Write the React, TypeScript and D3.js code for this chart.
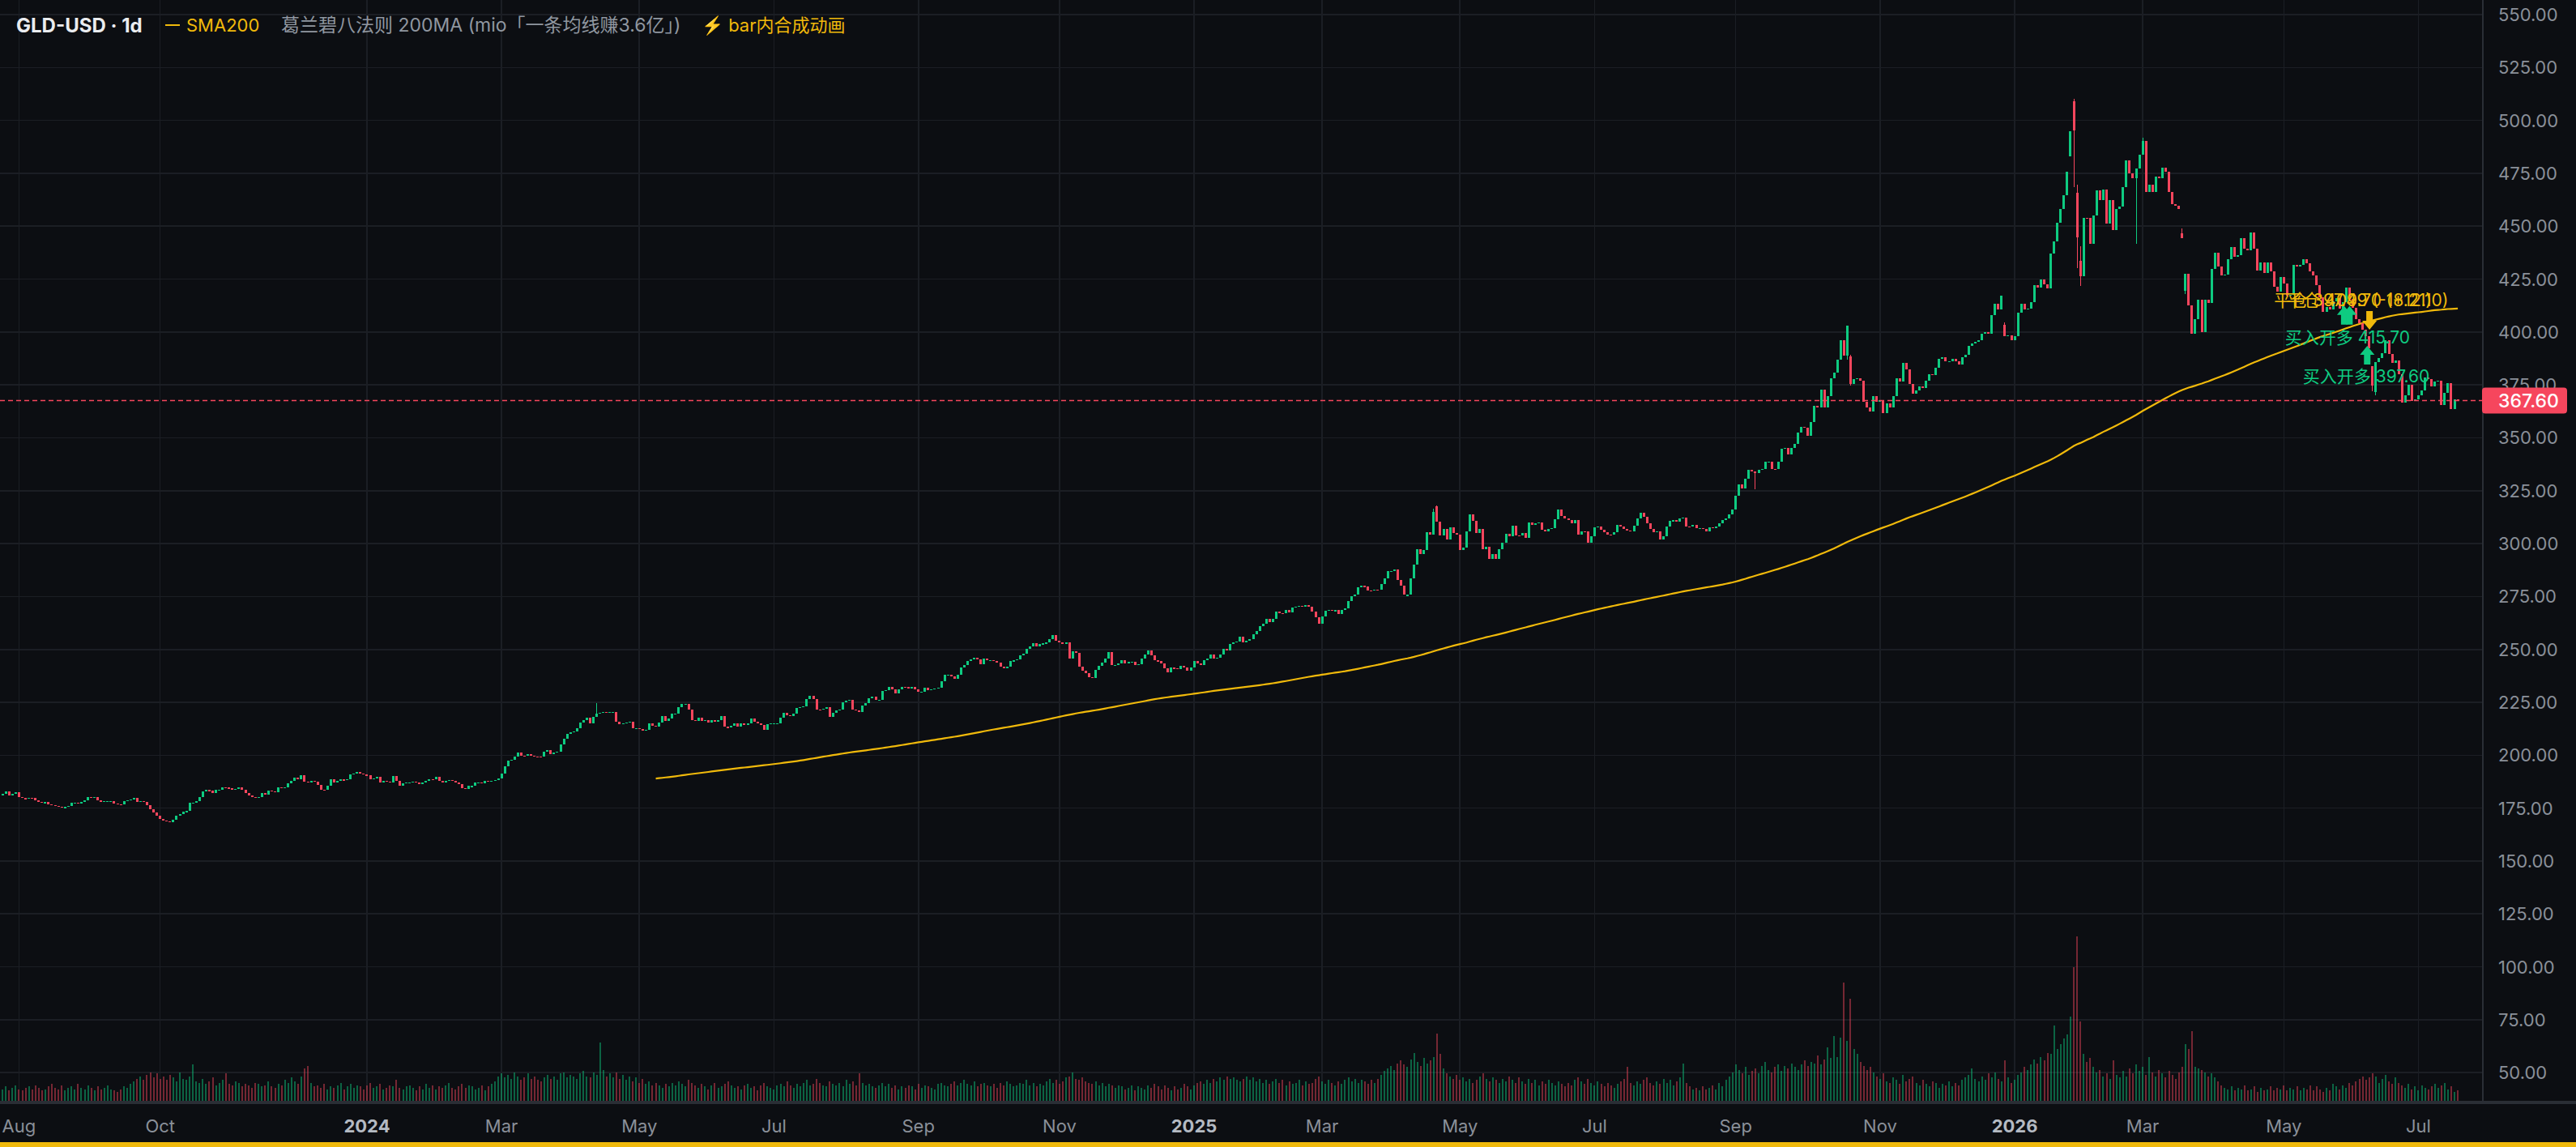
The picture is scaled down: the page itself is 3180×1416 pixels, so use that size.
import React, { useMemo } from 'react';
import * as d3 from 'd3';

const WIDTH = 3180;
const HEIGHT = 1416;

const FIRST_SESSION = '2023-07-25';
const MARKET_HOLIDAYS = [
  '2023-09-04', '2023-11-23', '2023-12-25',
  '2024-01-01', '2024-01-15', '2024-02-19', '2024-03-29', '2024-05-27', '2024-06-19', '2024-07-04', '2024-09-02', '2024-11-28', '2024-12-25',
  '2025-01-01', '2025-01-09', '2025-01-20', '2025-02-17', '2025-04-18', '2025-05-26', '2025-06-19', '2025-07-04', '2025-09-01', '2025-11-27', '2025-12-25',
  '2026-01-01', '2026-01-19', '2026-02-16', '2026-04-03', '2026-05-25', '2026-06-19', '2026-07-03',
];

// closes, Jul 2023 – Apr 2024
const CLOSES_A = [
  181.6, 182.8, 181.0, 181.6, 182.5, 180.3, 179.7, 179.4, 179.9, 179.7,
  178.7, 178.0, 177.8, 177.8, 176.9, 176.4, 175.9, 175.6, 175.4, 175.5,
  175.9, 177.4, 177.5, 177.4, 177.8, 178.7, 180.3, 180.1, 180.2, 178.7,
  177.9, 178.2, 178.3, 178.4, 177.2, 176.9, 176.6, 178.3, 178.7, 179.2,
  179.9, 177.9, 178.4, 177.8, 176.4, 174.6, 173.1, 171.5, 169.8, 169.3,
  168.9, 168.5, 169.6, 171.5, 172.3, 173.4, 173.6, 177.7, 177.7, 178.4,
  180.3, 182.8, 183.5, 183.1, 182.2, 183.5, 183.7, 185.0, 184.7, 184.5,
  183.7, 184.0, 184.7, 183.7, 182.0, 181.0, 180.3, 179.7, 180.2, 182.0,
  181.5, 183.2, 183.0, 182.7, 185.0, 184.5, 185.0, 186.6, 187.9, 189.4,
  188.5, 190.4, 187.5, 187.0, 187.9, 187.5, 185.8, 183.7, 183.5, 185.4,
  188.5, 187.3, 187.9, 188.5, 188.3, 188.8, 190.8, 191.3, 192.1, 191.3,
  190.8, 190.4, 188.5, 189.2, 189.8, 187.3, 187.9, 187.5, 187.0, 190.1,
  187.9, 185.4, 186.6, 187.3, 187.3, 187.5, 187.0, 186.6, 187.0, 187.8,
  188.8, 188.5, 189.8, 187.9, 187.3, 187.9, 188.2, 187.9, 187.0, 186.3,
  184.5, 184.1, 185.4, 185.4, 187.3, 187.3, 186.9, 187.9, 187.7, 187.9,
  188.2, 189.2, 191.3, 194.9, 197.4, 198.0, 199.3, 201.2, 199.9, 199.7,
  200.4, 199.7, 199.4, 199.3, 199.2, 201.5, 202.5, 200.6, 201.2, 201.7,
  205.0, 207.8, 210.1, 210.7, 211.3, 212.8, 215.4, 216.6, 217.7, 215.1,
  218.3, 219.6, 220.2, 220.4, 220.2, 220.4, 220.4, 215.8, 214.5, 215.1,
  215.4, 215.8, 212.6, 212.8, 212.3, 211.6,
];

// closes, May 2024 – Jan 2025
const CLOSES_B = [
  212.0, 215.0, 214.0, 213.7, 215.3, 218.4, 216.3, 217.4, 219.7, 219.7,
  222.6, 224.2, 224.2, 221.4, 216.5, 216.3, 217.8, 216.3, 216.5, 215.3,
  216.5, 215.9, 216.5, 218.4, 213.4, 213.0, 214.0, 215.0, 213.4, 215.0,
  214.3, 215.0, 217.2, 215.9, 215.0, 214.4, 212.1, 214.6, 215.0, 215.0,
  215.0, 217.6, 220.1, 218.8, 218.4, 219.7, 222.3, 222.9, 223.2, 226.7,
  228.0, 226.5, 221.6, 221.4, 221.9, 222.9, 218.2, 220.1, 221.0, 221.6,
  225.2, 225.7, 226.1, 221.6, 221.0, 220.6, 223.5, 224.8, 227.0, 227.7,
  226.1, 226.2, 230.5, 230.8, 232.4, 231.2, 229.3, 231.0, 232.4, 232.1,
  231.6, 232.4, 231.2, 229.9, 229.9, 231.8, 230.8, 231.2, 231.6, 231.8,
  235.0, 237.9, 238.2, 237.2, 236.3, 238.2, 241.3, 242.6, 244.5, 245.2,
  246.1, 245.2, 243.0, 245.5, 244.8, 245.0, 244.5, 243.8, 242.0, 241.0,
  242.0, 244.5, 244.8, 245.2, 247.1, 247.8, 250.3, 251.5, 252.8, 251.5,
  252.4, 252.8, 253.2, 254.7, 256.6, 254.1, 253.2, 252.8, 253.2, 245.8,
  249.0, 248.3, 241.7, 240.1, 238.8, 236.9, 236.6, 240.5, 242.2, 243.9,
  245.8, 248.6, 242.6, 242.6, 243.5, 244.8, 243.5, 244.0, 244.3, 242.6,
  243.0, 245.8, 247.7, 249.6, 247.1, 244.8, 244.5, 243.5, 241.0, 239.2,
  241.3, 241.0, 240.7, 242.2, 241.3, 240.1, 241.3, 244.5, 243.5, 242.5,
  244.8, 245.5, 247.7, 245.5, 246.1, 247.7, 250.3, 249.6, 252.4, 253.4,
  253.7, 256.0, 253.4, 254.1, 254.7, 257.3, 258.8, 261.1, 262.1,
];

// closes, Feb 2025 – Aug 2025
const CLOSES_C = [
  264.3, 263.0, 264.6, 267.7, 267.2, 267.1, 268.8, 267.5, 269.8, 270.3,
  270.7, 270.3, 271.1, 270.0, 267.7, 265.2, 262.1, 265.5, 268.4, 268.8,
  268.5, 268.5, 266.9, 268.8, 269.4, 272.8, 275.1, 275.8, 279.2, 280.0,
  279.8, 277.9, 277.7, 278.3, 278.1, 280.9, 283.4, 287.1, 287.2, 287.8,
  282.8, 280.2, 275.8, 275.8, 283.4, 290.1, 297.4, 295.1, 297.1, 305.4,
  304.4, 314.8, 310.5, 303.8, 306.9, 302.1, 307.6, 305.0, 304.4, 297.0,
  298.0, 305.9, 313.9, 310.8, 305.0, 306.9, 297.5, 298.4, 292.9, 295.2,
  292.9, 297.4, 300.3, 304.6, 303.4, 308.5, 303.9, 303.8, 305.0, 302.9,
  310.0, 308.8, 309.7, 310.1, 306.7, 305.9, 306.9, 307.2, 311.6, 316.1,
  313.0, 311.8, 311.0, 309.5, 311.0, 304.4, 305.9, 305.7, 300.3, 303.4,
  307.7, 308.0, 306.7, 305.4, 304.4, 304.1, 305.4, 308.8, 308.0, 306.9,
  306.3, 305.9, 308.5, 312.0, 314.6, 312.7, 309.5, 306.9, 305.4, 305.7,
  302.1, 303.4, 308.2, 310.8, 311.0, 310.5, 311.8, 312.3, 308.2, 308.0,
  308.8, 307.2, 307.2, 306.9, 305.7, 307.6, 307.2, 308.2, 309.7, 311.0,
  311.8, 313.9, 316.1, 322.5, 327.9,
];

// closes, Sep 2025 – Mar 2026
const CLOSES_D = [
  326.0, 330.8, 334.8, 334.1, 333.5, 334.8, 335.4, 338.7, 338.7, 335.4,
  335.2, 338.7, 344.9, 345.3, 342.0, 345.3, 347.3, 352.3, 355.2, 354.6,
  351.0, 357.6, 365.1, 364.4, 372.6, 364.4, 369.7, 378.3, 380.9, 386.8,
  396.3, 388.8, 402.9, 375.6, 377.6, 378.3, 376.9, 367.1, 364.4, 362.5,
  369.7, 367.1, 367.7, 361.5, 366.4, 364.4, 369.7, 378.3, 376.6, 385.5,
  382.2, 375.6, 371.0, 372.3, 374.3, 373.6, 376.9, 380.0, 379.6, 383.1,
  387.5, 388.1, 386.2, 386.2, 387.5, 386.2, 384.8, 388.1, 389.1, 393.4,
  394.7, 395.4, 396.0, 399.3, 400.0, 399.3, 407.9, 413.2, 410.5, 417.1,
  398.0, 398.4, 396.0, 398.0, 409.2, 413.2, 410.5, 411.2, 414.2, 422.1,
  421.1, 424.8, 422.7, 420.8, 437.2, 442.8, 451.6, 458.0, 464.6, 475.8,
  494.9, 495.1, 444.8, 426.4, 454.0, 453.8, 441.5, 455.1, 466.9, 462.2,
  467.2, 451.1, 462.2, 448.1, 458.0, 459.3, 468.5, 481.0, 475.1, 472.5,
  477.1, 483.7, 490.3, 466.0, 469.5, 466.0, 473.5, 472.5,
];

// closes, Mar 2026 – Jul 2026
const CLOSES_E = [
  477.7, 475.8, 466.2, 460.4, 459.8, 458.3, 444.2, 427.6, 412.6, 399.2,
  406.2, 415.1, 399.8, 415.1, 413.9, 429.8, 437.5, 431.1, 426.6, 427.3,
  434.3, 440.0, 435.6, 436.5, 444.5, 439.4, 438.7, 447.0, 439.4, 429.2,
  433.0, 427.9, 433.0, 428.5, 421.5, 418.9, 426.0, 422.8, 417.0, 417.7,
  431.7, 431.1, 431.7, 434.3, 432.4, 428.5, 426.6, 422.0, 416.4, 409.4,
  412.0, 410.5, 414.5, 416.0, 411.0, 414.0, 420.9, 415.7, 411.3, 406.2,
  404.0, 401.0, 398.0, 392.2, 374.5, 385.9, 387.8, 390.0, 396.0, 389.6,
  385.3, 386.5, 380.0, 366.7, 370.0, 375.0, 367.4, 368.0, 370.0, 372.5,
  378.5, 377.6, 374.4, 376.5, 377.0, 365.5, 371.2, 375.7, 363.5, 368.0, 367.6,
];

// notable candles whose open / high / low differ from the plain body: [bar, open, high, low]
const CANDLE_EXTREMES: [number, number | null, number | null, number | null][] = [
  [181, null, 224.6, null],
  [436, null, 316.5, null],
  [437, 317.5, 318.2, null],
  [534, null, null, 325.6],
  [562, null, null, 387.0],
  [563, 388.5, 389.2, 374.5],
  [610, 403.3, 404.5, null],
  [630, 483.0, null, null],
  [631, 509.2, 510.0, 468.5],
  [632, 465.9, 469.6, 430.3],
  [633, 433.6, 440.6, 421.7],
  [650, null, null, 441.5],
  [652, null, 492.0, 484.0],
  [664, 446.5, 449.0, null],
  [665, 419.6, null, 418.0],
  [722, 384.0, null, 372.0],
  [723, 371.7, null, 370.0],
];

// volume (millions)
const VOLUME_A = [
  9, 11, 8, 10, 12, 9, 8, 10, 11, 9, 12, 10, 8, 9, 11, 13, 10, 9, 12, 8, 10, 11, 9, 13, 10,
  9, 12, 10, 8, 11, 9, 10, 12, 9, 8, 7, 9, 11, 10, 13, 15, 17, 19, 16, 20, 22, 18, 21, 17, 19,
  16, 20, 18, 15, 22, 17, 16, 19, 28, 15, 14, 17, 13, 15, 18, 12, 14, 16, 21, 13, 12, 15, 14, 11, 13,
  12, 10, 14, 13, 11, 12, 15, 11, 10, 13, 12, 16, 14, 18, 15, 13, 19, 25, 27, 14, 11, 12, 10, 13, 9,
  11, 10, 12, 14, 9, 11, 13, 10, 12, 11, 9, 12, 14, 10, 11, 13, 9, 10, 12, 11, 16, 10, 9, 11, 12,
  10, 8, 11, 9, 13, 10, 12, 9, 11, 10, 12, 14, 10, 9, 11, 13, 10, 12, 11, 9, 10, 12, 8, 11, 13,
  15, 19, 21, 18, 20, 17, 22, 19, 16, 18, 21, 17, 19, 16, 15, 18, 20, 17, 19, 16, 21, 22, 18, 20, 19,
  17, 21, 23, 19, 18, 22, 20, 45, 24, 19, 21, 18, 22, 17, 20, 16, 19, 15, 18, 14, 17, 13, 15, 12, 14,
  12, 10, 13, 11, 14, 12, 15, 13, 11, 16, 14, 12, 10, 13, 11, 9, 12, 14, 10, 11, 13, 15, 12, 10, 11,
  9, 12, 13, 10, 11, 8, 12, 14, 11, 10, 9, 12, 13, 11, 15, 12, 10, 13, 11, 14, 16, 12, 13, 17, 14,
];
const VOLUME_B = [
  12, 11, 15, 13, 12, 14, 11, 16, 13, 15, 12, 21, 14, 12, 13, 11, 10, 12, 14, 11, 13, 10, 12, 9, 11,
  10, 12, 11, 9, 13, 10, 12, 11, 10, 9, 13, 14, 12, 11, 13, 15, 12, 14, 16, 13, 12, 15, 11, 13, 14,
  12, 11, 13, 10, 14, 12, 15, 13, 11, 12, 14, 13, 16, 12, 14, 11, 13, 12, 15, 17, 14, 16, 13, 15, 18,
  19, 22, 17, 16, 18, 15, 14, 13, 15, 12, 14, 11, 13, 12, 10, 12, 11, 9, 10, 12, 8, 11, 10, 9, 12,
  10, 13, 11, 9, 12, 10, 8, 11, 9, 10, 13, 11, 9, 12, 14, 15, 13, 16, 14, 17, 15, 18, 16, 19, 17,
  18, 16, 15, 17, 19, 16, 18, 15, 17, 14, 16, 13, 15, 17, 14, 16, 12, 15, 13, 14, 16, 12, 15, 13, 14,
  17, 19, 15, 13, 16, 14, 12, 15, 13, 16, 18, 15, 17, 14, 16, 15, 13, 16, 14, 17, 20, 23, 25, 27, 24,
  29, 31, 28, 26, 32, 37, 30, 27, 33, 29, 31, 34, 52, 36, 25, 21, 19, 17, 20, 16, 18, 15, 17, 14, 16,
  19, 21, 17, 15, 18, 16, 14, 17, 15, 19, 16, 14, 18, 15, 13, 17, 14, 16, 12, 15, 13, 16, 14, 12, 15,
  13, 11, 14, 12, 16, 18, 15, 13, 17, 14, 12, 15, 13, 11, 14, 12, 10, 13, 15, 17, 26, 14, 12, 15, 13,
];
const VOLUME_C = [
  16, 18, 14, 12, 15, 13, 17, 14, 16, 12, 15, 18, 29, 14, 11, 9, 10, 8, 11, 9, 10, 12, 9, 14, 11,
  16, 19, 22, 28, 24, 21, 26, 20, 23, 25, 21, 27, 30, 24, 22, 26, 28, 23, 27, 25, 29, 26, 24, 28, 31,
  27, 30, 29, 35, 28, 32, 41, 33, 50, 34, 49, 91, 46, 79, 40, 36, 30, 27, 24, 26, 22, 19, 17, 21, 15,
  14, 18, 16, 13, 20, 15, 17, 19, 14, 12, 16, 13, 11, 15, 14, 10, 13, 12, 15, 11, 14, 12, 16, 18, 20,
  25, 17, 15, 19, 16, 21, 18, 22, 17, 15, 31, 18, 14, 16, 20, 22, 26, 24, 28, 32, 29, 34, 31, 37, 36,
  58, 40, 44, 48, 51, 65, 103, 127, 61, 36, 30, 33, 26, 22, 24, 19, 21, 17, 31, 20, 18, 23, 19, 25, 21,
  28, 23, 26, 20, 34, 22, 19, 24, 21, 18, 23, 20, 17, 22, 26, 44, 40, 54, 26, 25, 24, 22, 19, 21, 18,
  15, 12, 10, 9, 11, 8, 10, 9, 12, 8, 9, 11, 7, 10, 8, 9, 11, 8, 10, 9, 12, 8, 10, 9, 11,
  8, 10, 9, 12, 8, 11, 9, 7, 10, 8, 13, 11, 9, 12, 10, 14, 12, 15, 17, 19, 16, 18, 21, 19, 14,
  17, 20, 15, 13, 18, 14, 12, 10, 13, 9, 11, 8, 12, 10, 9, 11, 13, 10, 12, 14, 9, 11, 7, 8,
];

const PRICE_TICKS = [550, 525, 500, 475, 450, 425, 400, 375, 350, 325, 300, 275, 250, 225, 200, 175, 150, 125, 100, 75, 50];

const MONTH_TICKS = [
  { key: '2023-08', label: 'Aug', year: false },
  { key: '2023-10', label: 'Oct', year: false },
  { key: '2024-01', label: '2024', year: true },
  { key: '2024-03', label: 'Mar', year: false },
  { key: '2024-05', label: 'May', year: false },
  { key: '2024-07', label: 'Jul', year: false },
  { key: '2024-09', label: 'Sep', year: false },
  { key: '2024-11', label: 'Nov', year: false },
  { key: '2025-01', label: '2025', year: true },
  { key: '2025-03', label: 'Mar', year: false },
  { key: '2025-05', label: 'May', year: false },
  { key: '2025-07', label: 'Jul', year: false },
  { key: '2025-09', label: 'Sep', year: false },
  { key: '2025-11', label: 'Nov', year: false },
  { key: '2026-01', label: '2026', year: true },
  { key: '2026-03', label: 'Mar', year: false },
  { key: '2026-05', label: 'May', year: false },
  { key: '2026-07', label: 'Jul', year: false },
];

const SIGNAL_ARROWS = [
  { bar: 713.4, price: 412.3, dir: 'up', kind: 'buy' },
  { bar: 715.0, price: 412.3, dir: 'up', kind: 'buy' },
  { bar: 721.1, price: 401.1, dir: 'down', kind: 'close' },
  { bar: 720.4, price: 393.4, dir: 'up', kind: 'buy' },
];
// anchor: 'start' labels begin at the bar, 'middle' labels are centred on it
const SIGNAL_LABELS = [
  { bar: 692.0, price: 415.2, text: '平仓 397.49 (-18.21)', kind: 'close', anchor: 'start' },
  { bar: 695.7, price: 415.2, text: '平仓 409.70 (+12.10)', kind: 'close', anchor: 'start' },
  { bar: 714.4, price: 397.6, text: '买入开多 415.70', kind: 'buy', anchor: 'middle' },
  { bar: 720.1, price: 378.9, text: '买入开多 397.60', kind: 'buy', anchor: 'middle' },
];

const SMA_PERIOD = 200;

const COLORS = {
  bg: '#0c0e12',
  grid: '#1b1e24',
  border: '#2a2e35',
  up: '#0ecb81',
  down: '#f6465d',
  yellow: '#f0b90b',
  axisText: '#8a9099',
  yearText: '#b4bac2',
  legendGray: '#9097a0',
  legendWhite: '#eaecef',
};

const FONT = 'Inter, "Noto Sans CJK SC", "Noto Sans", sans-serif';

function buildSessions(n: number): string[] {
  const hol = new Set(MARKET_HOLIDAYS);
  const out: string[] = [];
  const [y, m, d] = FIRST_SESSION.split('-').map(Number);
  const dt = new Date(Date.UTC(y, m - 1, d));
  while (out.length < n) {
    const wd = dt.getUTCDay();
    const key = dt.toISOString().slice(0, 10);
    if (wd !== 0 && wd !== 6 && !hol.has(key)) out.push(key);
    dt.setUTCDate(dt.getUTCDate() + 1);
  }
  return out;
}

function arrowPath(cx: number, tipY: number, dir: string) {
  const hw = 9, hh = 11, sw = 4, sh = 12;
  if (dir === 'up') {
    return `M${cx},${tipY} L${cx + hw},${tipY + hh} L${cx + sw},${tipY + hh} L${cx + sw},${tipY + hh + sh} L${cx - sw},${tipY + hh + sh} L${cx - sw},${tipY + hh} L${cx - hw},${tipY + hh} Z`;
  }
  return `M${cx},${tipY} L${cx + hw},${tipY - hh} L${cx + sw},${tipY - hh} L${cx + sw},${tipY - hh - sh} L${cx - sw},${tipY - hh - sh} L${cx - sw},${tipY - hh} L${cx - hw},${tipY - hh} Z`;
}

export default function App() {
  const model = useMemo(() => {
    const closes = [...CLOSES_A, ...CLOSES_B, ...CLOSES_C, ...CLOSES_D, ...CLOSES_E];
    const volumes = [...VOLUME_A, ...VOLUME_B, ...VOLUME_C];
    const n = closes.length;
    const sessions = buildSessions(n);
    const extra = new Map(CANDLE_EXTREMES.map((e) => [e[0], e]));
    const bars = closes.map((c, i) => {
      const e = extra.get(i);
      const o = e && e[1] != null ? e[1] : i === 0 ? c : closes[i - 1];
      let h = Math.max(o, c);
      let l = Math.min(o, c);
      if (e && e[2] != null) h = Math.max(h, e[2]);
      if (e && e[3] != null) l = Math.min(l, e[3]);
      return { i, date: sessions[i], o, h, l, c, v: volumes[i] ?? 10 };
    });
    const sma: { i: number; v: number }[] = [];
    for (let i = SMA_PERIOD - 1; i < n; i++) {
      sma.push({ i, v: d3.mean(closes.slice(i - SMA_PERIOD + 1, i + 1)) as number });
    }
    const ticks = MONTH_TICKS.map((t) => ({ ...t, i: sessions.findIndex((s) => s.startsWith(t.key)) })).filter((t) => t.i >= 0);
    return { bars, sma, ticks, n };
  }, []);

  const { bars, sma, ticks, n } = model;

  const plotRight = 3065;
  const volBase = 1359;
  const x = d3.scaleLinear().domain([0, n - 1]).range([3.2, 3.2 + (n - 1) * 4.052]);
  const y = d3.scaleLinear().domain([50, 550]).range([1324.2, 18]);
  const vy = d3.scaleLinear().domain([0, 140]).range([volBase, volBase - 224]);

  const smaLine = d3.line<{ i: number; v: number }>().x((d) => x(d.i)).y((d) => y(d.v))(sma) || '';

  const last = bars[bars.length - 1];
  const lastY = y(last.c);
  const bodyW = 3;

  return (
    <svg
      width={WIDTH}
      height={HEIGHT}
      viewBox={`0 0 ${WIDTH} ${HEIGHT}`}
      style={{ position: 'fixed', left: 0, top: 0, display: 'block', background: COLORS.bg }}
      fontFamily={FONT}
    >
      <rect x={0} y={0} width={WIDTH} height={HEIGHT} fill={COLORS.bg} />

      {/* grid */}
      <g stroke={COLORS.grid} strokeWidth={1.6} shapeRendering="crispEdges">
        {PRICE_TICKS.map((p) => (
          <line key={`h${p}`} x1={0} x2={plotRight} y1={y(p)} y2={y(p)} />
        ))}
        {ticks.map((t) => (
          <line key={`v${t.key}`} x1={x(t.i)} x2={x(t.i)} y1={0} y2={volBase} />
        ))}
      </g>

      {/* volume */}
      <g shapeRendering="crispEdges">
        {bars.map((b) => (
          <rect
            key={`vol${b.i}`}
            x={x(b.i) - 1}
            y={vy(b.v)}
            width={2}
            height={volBase - vy(b.v)}
            fill={b.c >= b.o ? COLORS.up : COLORS.down}
            opacity={0.45}
          />
        ))}
      </g>

      {/* SMA200 */}
      <path d={smaLine} fill="none" stroke={COLORS.yellow} strokeWidth={2.2} />

      {/* candles */}
      <g shapeRendering="crispEdges">
        {bars.map((b) => {
          const col = b.c >= b.o ? COLORS.up : COLORS.down;
          const top = y(Math.max(b.o, b.c));
          const bot = y(Math.min(b.o, b.c));
          const cx = x(b.i);
          return (
            <g key={`c${b.i}`}>
              {(b.h > Math.max(b.o, b.c) || b.l < Math.min(b.o, b.c)) && (
                <line x1={cx} x2={cx} y1={y(b.h)} y2={y(b.l)} stroke={col} strokeWidth={1} />
              )}
              <rect x={cx - bodyW / 2} y={top} width={bodyW} height={Math.max(1.2, bot - top)} fill={col} />
            </g>
          );
        })}
      </g>

      {/* last price line */}
      <line x1={0} x2={plotRight} y1={lastY} y2={lastY} stroke={COLORS.down} strokeWidth={1.5} strokeDasharray="6 4" />

      {/* signals */}
      {SIGNAL_ARROWS.map((s, k) => (
        <path
          key={`a${k}`}
          d={arrowPath(x(s.bar), y(s.price), s.dir)}
          fill={s.kind === 'buy' ? COLORS.up : COLORS.yellow}
        />
      ))}
      {SIGNAL_LABELS.map((s, k) => (
        <text
          key={`l${k}`}
          x={x(s.bar)}
          y={y(s.price)}
          textAnchor={s.anchor}
          dominantBaseline="central"
          fontSize={21}
          fill={s.kind === 'buy' ? COLORS.up : COLORS.yellow}
        >
          {s.text}
        </text>
      ))}

      {/* price axis */}
      <rect x={plotRight} y={0} width={WIDTH - plotRight} height={volBase} fill={COLORS.bg} />
      <line x1={plotRight} x2={plotRight} y1={0} y2={volBase + 3} stroke={COLORS.border} strokeWidth={2} />
      {PRICE_TICKS.map((p) => (
        <text key={`pt${p}`} x={3084} y={y(p)} dominantBaseline="central" fontSize={22} fill={COLORS.axisText}>
          {p.toFixed(2)}
        </text>
      ))}
      <rect x={3064} y={lastY - 16} width={105} height={32} rx={4} fill={COLORS.down} />
      <text x={3084} y={lastY} dominantBaseline="central" fontSize={23} fill="#ffffff" fontWeight={500}>
        {last.c.toFixed(2)}
      </text>

      {/* pane separator */}
      <rect x={0} y={volBase} width={WIDTH} height={4} fill={COLORS.border} />

      {/* time axis */}
      {ticks.map((t) => (
        <text
          key={`tt${t.key}`}
          x={x(t.i)}
          y={1390}
          textAnchor="middle"
          dominantBaseline="central"
          fontSize={22}
          fontWeight={t.year ? 700 : 400}
          fill={t.year ? COLORS.yearText : COLORS.axisText}
        >
          {t.label}
        </text>
      ))}

      {/* bottom bar */}
      <rect x={0} y={1410} width={WIDTH} height={6} fill={COLORS.yellow} />

      {/* legend */}
      <g dominantBaseline="central">
        <text x={20} y={31} fill={COLORS.legendWhite} fontWeight={700} fontSize={24}>GLD-USD · 1d</text>
        <line x1={204} x2={222} y1={31} y2={31} stroke={COLORS.yellow} strokeWidth={2} />
        <text x={230} y={31} fill={COLORS.yellow} fontSize={22}>SMA200</text>
        <text x={347} y={31} fill={COLORS.legendGray} fontSize={23}>葛兰碧八法则 200MA (mio「一条均线赚3.6亿」)</text>
        <text x={866} y={31} fill={COLORS.yellow} fontSize={22}>⚡ bar内合成动画</text>
      </g>
    </svg>
  );
}
